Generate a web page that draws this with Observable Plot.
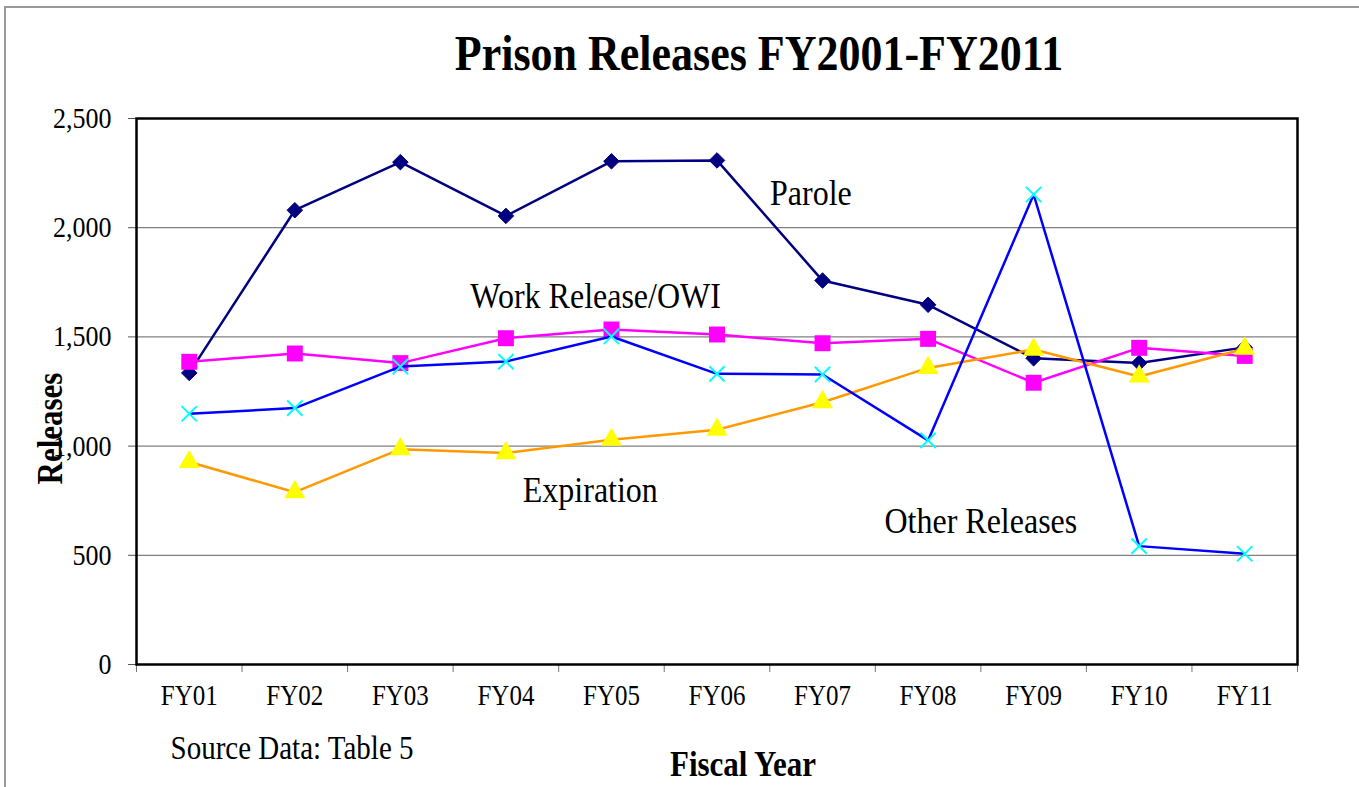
<!DOCTYPE html>
<html>
<head>
<meta charset="utf-8">
<script src="https://cdn.jsdelivr.net/npm/d3@7"></script>
<script src="https://cdn.jsdelivr.net/npm/@observablehq/plot@0.6"></script>
<style>
  html, body { margin: 0; padding: 0; background: white; overflow: hidden; }
  #wrap { position: relative; width: 1359px; height: 787px; }
  #border { position: absolute; left: 4px; top: 6px; width: 2000px; height: 2000px;
            border-left: 2px solid #9a9a9a; border-top: 2px solid #9a9a9a; pointer-events: none; }
  #chart { position: absolute; left: 0; top: 0; }
</style>
</head>
<body>
<div id="wrap"><div id="chart"></div><div id="border"></div></div>
<script>
const fiscalYears = ["FY01","FY02","FY03","FY04","FY05","FY06","FY07","FY08","FY09","FY10","FY11"];
const parole        = [1335, 2080, 2300, 2054, 2304, 2308, 1758, 1647, 1402, 1381, 1452];
const workRelease   = [1386, 1424, 1380, 1494, 1534, 1511, 1471, 1491, 1290, 1450, 1413];
const expiration    = [927, 789, 986, 968, 1029, 1075, 1201, 1358, 1442, 1319, 1446];
const otherReleases = [1148, 1174, 1364, 1387, 1502, 1331, 1328, 1026, 2152, 542, 507];
const yTicks = [0, 500, 1000, 1500, 2000, 2500];
const gridTicks = [500, 1000, 1500, 2000];
const seriesLabels = [
  {text: "Parole", i: 5.89, v: 2157},
  {text: "Work Release/OWI", i: 3.85, v: 1685},
  {text: "Expiration", i: 3.80, v: 797},
  {text: "Other Releases", i: 7.50, v: 655}
];

const rows = arr => arr.map((v, i) => ({i, v}));
const idx = d3.range(fiscalYears.length);
const bounds = d3.range(-0.5, fiscalYears.length, 1);

const chart = Plot.plot({
  width: 1359,
  height: 787,
  marginLeft: 136,
  marginRight: 62,
  marginTop: 118,
  marginBottom: 123,
  style: {fontFamily: "'Liberation Serif', 'Times New Roman', serif", fontSize: "26px", color: "black", background: "white"},
  x: {domain: [-0.5, fiscalYears.length - 0.5]},
  y: {domain: [0, 2500]},
  marks: [
    Plot.gridY(gridTicks, {stroke: "#808080", strokeOpacity: 1, strokeWidth: 1.2}),
    Plot.axisY(yTicks, {tickSize: 8, tickPadding: 17, tickFormat: d3.format(","), fontSize: 26, label: null, stroke: "#555"}),
    Plot.axisX(bounds, {tickSize: 8, tickFormat: () => "", label: null, stroke: "#777"}),
    Plot.axisX(idx, {tickSize: 0, tickPadding: 20, tickFormat: i => fiscalYears[i], fontSize: 25, label: null}),
    Plot.frame({stroke: "black", strokeWidth: 2.5}),

    Plot.line(rows(parole), {x: "i", y: "v", stroke: "#000080", strokeWidth: 2.5}),
    Plot.dot(rows(parole), {x: "i", y: "v", symbol: "diamond2", r: 7, fill: "#000080", stroke: "#000080", strokeWidth: 1}),

    Plot.line(rows(workRelease), {x: "i", y: "v", stroke: "#FF00FF", strokeWidth: 2.5}),
    Plot.dot(rows(workRelease), {x: "i", y: "v", symbol: "square", r: 9, fill: "#FF00FF", stroke: "none"}),

    Plot.line(rows(expiration), {x: "i", y: "v", stroke: "#FF9900", strokeWidth: 2.5}),
    Plot.dot(rows(expiration), {x: "i", y: "v", symbol: "triangle", r: 7.8, fill: "#FFFF00", stroke: "none"}),

    Plot.line(rows(otherReleases), {x: "i", y: "v", stroke: "#0000FF", strokeWidth: 2.5}),
    Plot.dot(rows(otherReleases), {x: "i", y: "v", symbol: "times", r: 7, fill: "none", stroke: "#00FFFF", strokeWidth: 2}),

    Plot.text(seriesLabels, {x: "i", y: "v", text: "text", fontSize: 32, fill: "black"}),

    Plot.text(["Prison Releases FY2001-FY2011"], {frameAnchor: "top", dx: 42, dy: -65, lineAnchor: "middle", textAnchor: "middle", fontSize: 44, fontWeight: "bold", fill: "black"}),
    Plot.text(["Releases"], {frameAnchor: "left", rotate: -90, dx: -86, dy: 37, lineAnchor: "middle", textAnchor: "middle", fontSize: 31, fontWeight: "bold", fill: "black"}),
    Plot.text(["Fiscal Year"], {frameAnchor: "bottom", dx: 26, dy: 100, lineAnchor: "middle", textAnchor: "middle", fontSize: 31, fontWeight: "bold", fill: "black"}),
    Plot.text(["Source Data: Table 5"], {frameAnchor: "bottom-left", textAnchor: "start", dx: 34, dy: 84, lineAnchor: "middle", fontSize: 29, fill: "black"})
  ]
});
// the reference's lettering is slightly taller than it is wide
chart.querySelectorAll("text").forEach(t => {
  const tr = t.getAttribute("transform");
  if (tr) t.setAttribute("transform", tr + " scale(1,1.15)");
});
document.getElementById("chart").appendChild(chart);
</script>
</body>
</html>
